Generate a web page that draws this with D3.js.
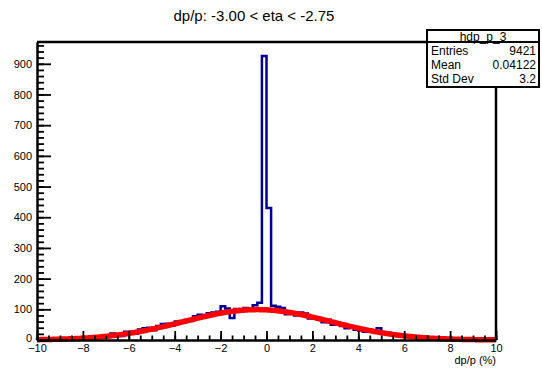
<!DOCTYPE html>
<html>
<head>
<meta charset="utf-8">
<script src="https://cdn.jsdelivr.net/npm/d3@7"></script>
<style>
    body { margin: 0; background: #fff; }
    text { font-family: "Liberation Sans", Arial, Helvetica, sans-serif; }
</style>
</head>
<body>
<div id="chart-area"></div>
<script>
// histogram: 100 bins between -10 and 10
var xRange = [-10, 10];
var counts = [
    2, 1, 3, 2, 4, 2, 5, 3, 6, 4,
    7, 6, 9, 8, 12, 10, 21, 14, 13, 27,
    27, 20, 34, 38, 40, 32, 46, 52, 53, 47,
    60, 62, 65, 62, 77, 82, 79, 87, 90, 92,
    110, 103, 72, 101, 96, 104, 98, 113, 121, 925,
    430, 112, 108, 104, 84, 86, 80, 90, 86, 70,
    74, 66, 58, 66, 50, 57, 46, 38, 44, 33,
    31, 27, 33, 32, 38, 21, 24, 16, 18, 11,
    14, 11, 10, 9, 8, 8, 7, 6, 7, 5,
    4, 5, 4, 3, 5, 3, 4, 3, 3, 3
];

// gaussian fit parameters
var fitConstant = 99;
var fitMean = -0.4;
var fitSigma = 3.2;

var xTicks = [-10, -8, -6, -4, -2, 0, 2, 4, 6, 8, 10];
var yTicks = [0, 100, 200, 300, 400, 500, 600, 700, 800, 900];

var statNames  = ["Entries", "Mean", "Std Dev"];
var statValues = ["9421", "0.04122", "3.2"];

var title = "dp/p: -3.00 < eta < -2.75";
var histName = "hdp_p_3";

var frame = { left: 37, right: 496, top: 42, bottom: 340 };

var svg = d3.select("#chart-area")
    .append("svg")
        .attr("width", 542)
        .attr("height", 370);

var x = d3.scaleLinear()
    .domain(xRange)
    .range([frame.left, frame.right]);

var y = d3.scaleLinear()
    .domain([0, 971])
    .range([frame.bottom, frame.top]);

var nBins = counts.length;
var binWidth = (xRange[1] - xRange[0]) / nBins;

// histogram outline
var pts = [[xRange[0], 0]];
counts.forEach(function(c, i) {
    var lo = xRange[0] + i * binWidth;
    pts.push([lo, c]);
    pts.push([lo + binWidth, c]);
});
pts.push([xRange[1], 0]);

var line = d3.line()
    .x(function(d) { return x(d[0]); })
    .y(function(d) { return y(d[1]); });

svg.append("path")
    .attr("d", line(pts))
    .attr("fill", "none")
    .attr("stroke", "#000099")
    .attr("stroke-width", 2.5);

// fit curve
var fitPts = d3.range(0, 401).map(function(i) {
    var xv = xRange[0] + i * (xRange[1] - xRange[0]) / 400;
    var z = (xv - fitMean) / fitSigma;
    return [xv, fitConstant * Math.exp(-0.5 * z * z)];
});

svg.append("path")
    .attr("d", line(fitPts))
    .attr("fill", "none")
    .attr("stroke", "#ff0000")
    .attr("stroke-width", 5.5)
    .attr("stroke-linejoin", "round");

// axes
var yMinor = d3.range(0, 961, 20);
svg.append("g")
    .attr("transform", "translate(" + frame.left + ",0)")
    .call(d3.axisLeft(y).tickValues(yMinor).tickSize(-7).tickFormat(""))
    .call(function(g) { g.select(".domain").remove(); });

var yAxis = svg.append("g")
    .attr("transform", "translate(" + frame.left + ",0)")
    .call(d3.axisLeft(y).tickValues(yTicks).tickSize(-14).tickSizeOuter(0).tickPadding(5));

// lift the "0" a little so it clears the -10 below it
yAxis.selectAll(".tick text")
    .filter(function(d) { return d === 0; })
    .attr("dy", "0.1em");

var xMinor = d3.range(-10, 10.01, 0.5);
svg.append("g")
    .attr("transform", "translate(0," + frame.bottom + ")")
    .call(d3.axisBottom(x).tickValues(xMinor).tickSize(-4.5).tickFormat(""))
    .call(function(g) { g.select(".domain").remove(); });

var xAxis = svg.append("g")
    .attr("transform", "translate(0," + frame.bottom + ")")
    .call(d3.axisBottom(x).tickValues(xTicks).tickSize(-9).tickSizeOuter(0).tickPadding(4)
        .tickFormat(function(d) { return d < 0 ? "\u2212" + (-d) : d; }));

svg.selectAll(".tick line").attr("stroke", "#000").attr("stroke-width", 1.8);
svg.selectAll(".domain").attr("stroke", "#000").attr("stroke-width", 2.5);
svg.selectAll(".tick text").attr("font-size", "11px").attr("fill", "#000")
    .style("font-family", "'Liberation Sans', Arial, sans-serif");

// frame top and right
svg.append("path")
    .attr("d", "M" + frame.left + "," + frame.top + "H" + frame.right + "V" + frame.bottom)
    .attr("fill", "none")
    .attr("stroke", "#000")
    .attr("stroke-width", 2.5);

// x title
svg.append("text")
    .attr("x", frame.right)
    .attr("y", 364)
    .attr("text-anchor", "end")
    .attr("font-size", "11px")
    .text("dp/p (%)");

// main title
svg.append("text")
    .attr("x", 254)
    .attr("y", 21)
    .attr("text-anchor", "middle")
    .attr("font-size", "15px")
    .text(title);

// stats box
var box = { x: 427, y: 30, w: 112, h: 57, head: 12 };
svg.append("rect")
    .attr("x", box.x).attr("y", box.y)
    .attr("width", box.w).attr("height", box.h)
    .attr("fill", "#fff")
    .attr("stroke", "#000")
    .attr("stroke-width", 2);

svg.append("line")
    .attr("x1", box.x).attr("x2", box.x + box.w)
    .attr("y1", box.y + box.head).attr("y2", box.y + box.head)
    .attr("stroke", "#000")
    .attr("stroke-width", 2);

svg.append("text")
    .attr("x", box.x + box.w / 2)
    .attr("y", box.y + 10.5)
    .attr("text-anchor", "middle")
    .attr("font-size", "12px")
    .text(histName);

statNames.forEach(function(name, i) {
    var by = box.y + box.head + 13 + i * 14;
    svg.append("text")
        .attr("x", box.x + 4)
        .attr("y", by)
        .attr("font-size", "12px")
        .text(name);
    svg.append("text")
        .attr("x", box.x + box.w - 3)
        .attr("y", by)
        .attr("text-anchor", "end")
        .attr("font-size", "12px")
        .text(statValues[i]);
});
</script>
</body>
</html>
